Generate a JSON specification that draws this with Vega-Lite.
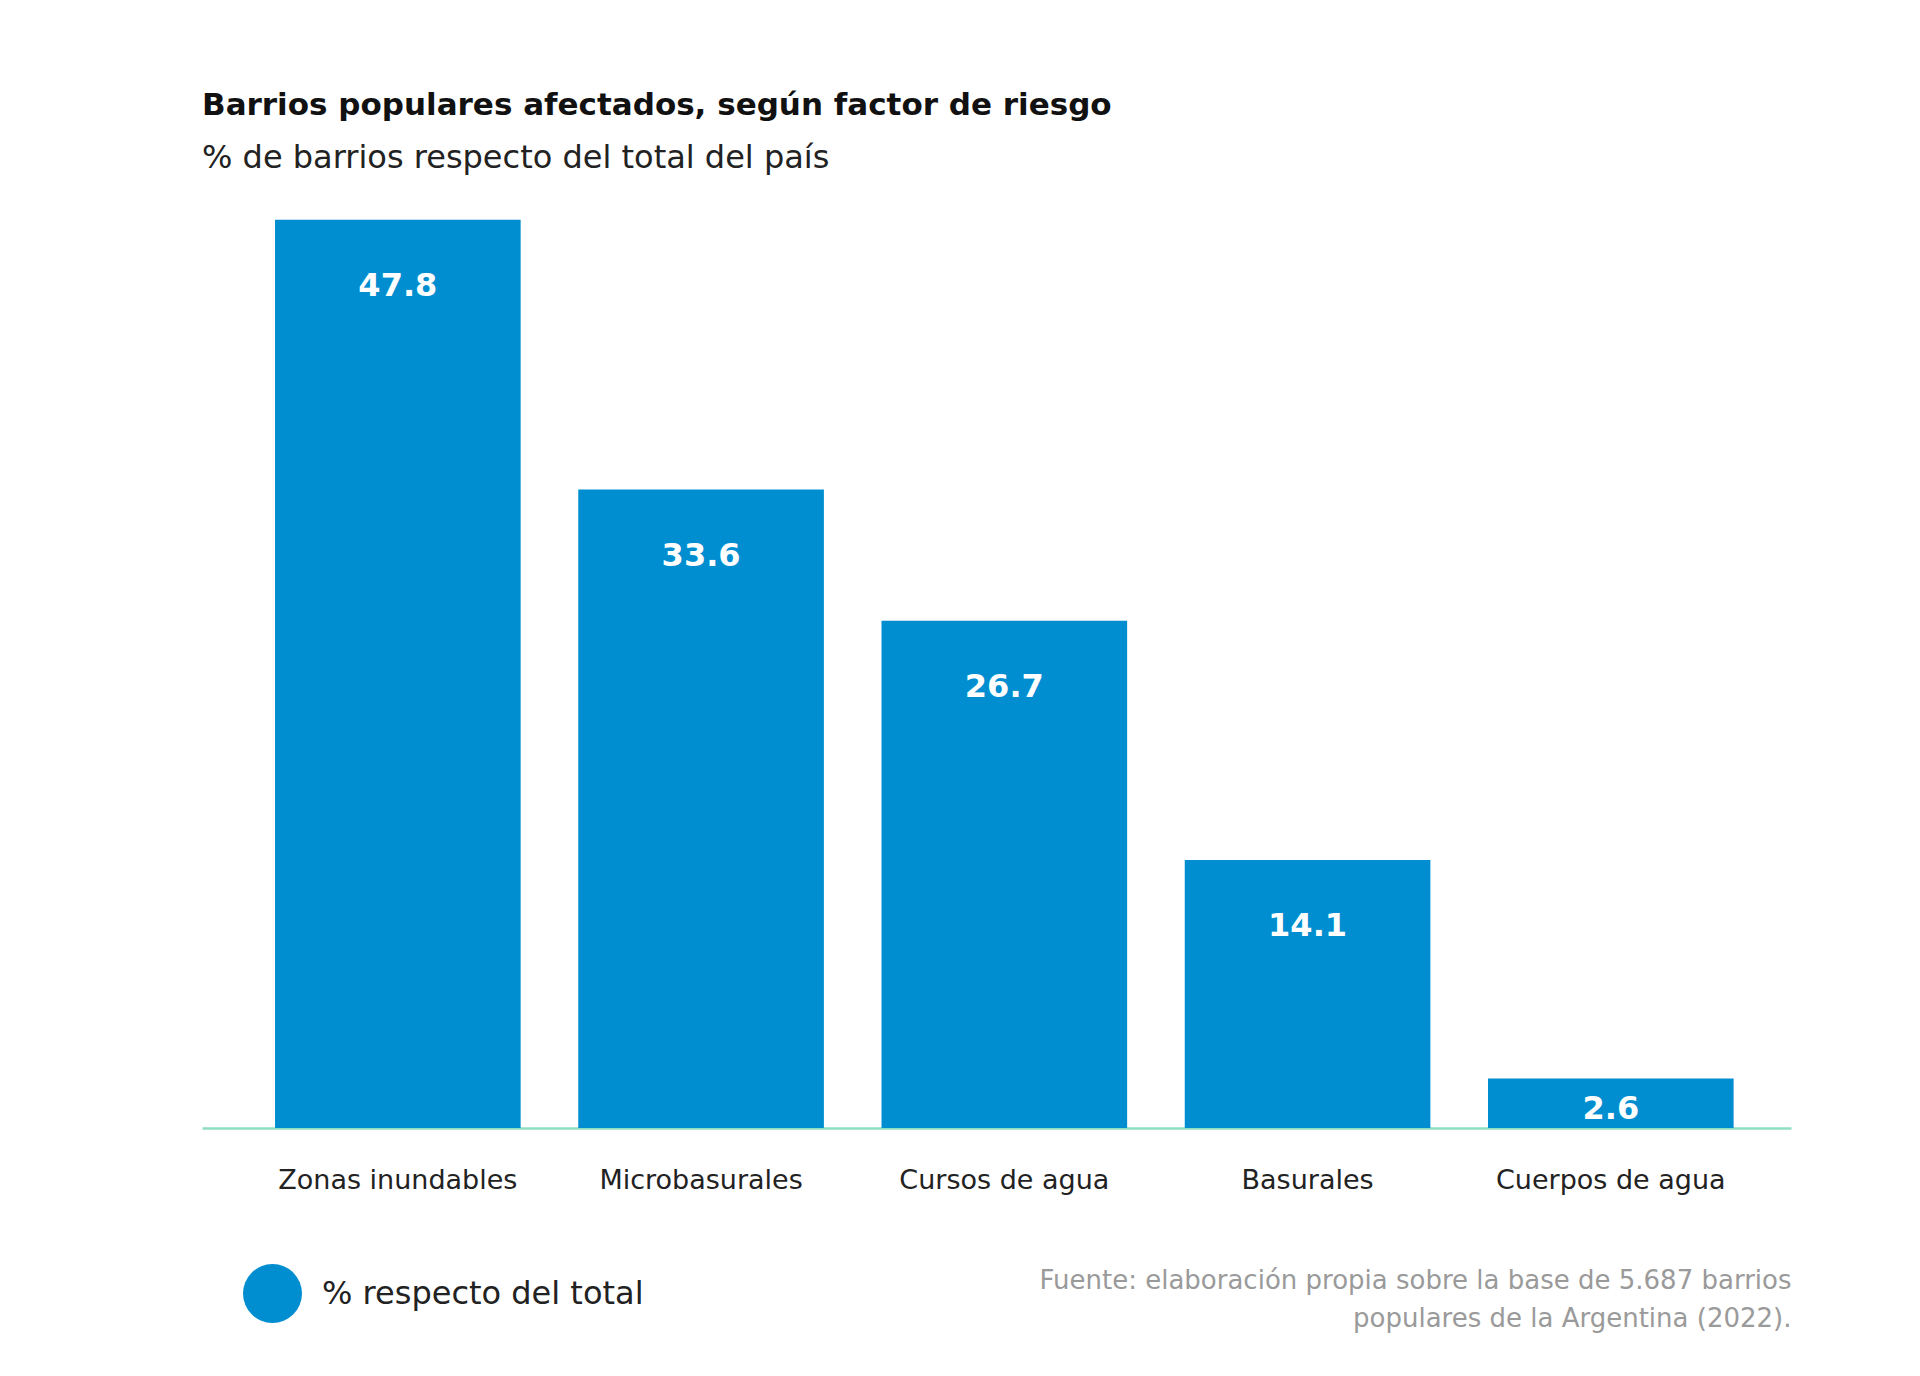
{
  "$schema": "https://vega.github.io/schema/vega-lite/v6.json",
  "autosize": "none",
  "padding": {"left": 202, "top": 178, "right": 129, "bottom": 248},
  "width": 1589,
  "height": 950,
  "background": "white",
  "config": {"view": {"stroke": null}, "font": "DejaVu Sans"},
  "title": {
    "text": "Barrios populares afectados, según factor de riesgo",
    "subtitle": "% de barrios respecto del total del país",
    "anchor": "start",
    "font": "DejaVu Sans",
    "fontSize": 31,
    "fontWeight": "bold",
    "color": "#111111",
    "subtitleFont": "DejaVu Sans",
    "subtitleFontSize": 32,
    "subtitleColor": "#222222",
    "subtitlePadding": 21,
    "offset": 3
  },
  "data": {
    "values": [
      {"factor": "Zonas inundables", "valor": 47.8},
      {"factor": "Microbasurales", "valor": 33.6},
      {"factor": "Cursos de agua", "valor": 26.7},
      {"factor": "Basurales", "valor": 14.1},
      {"factor": "Cuerpos de agua", "valor": 2.6}
    ]
  },
  "encoding": {
    "x": {
      "field": "factor",
      "type": "nominal",
      "sort": null,
      "scale": {"paddingInner": 0.19, "paddingOuter": 0.215, "align": 0.56},
      "axis": {
        "title": ["Fuente: elaboración propia sobre la base de 5.687 barrios", "populares de la Argentina (2022)."],
        "titleAnchor": "end",
        "titleAlign": "right",
        "titleBaseline": "top",
        "titleFont": "DejaVu Sans",
        "titleFontSize": 26,
        "titleFontWeight": "normal",
        "titleColor": "#9a9a9a",
        "titleLineHeight": 38,
        "titlePadding": 74,
        "labelAngle": 0,
        "labelFont": "DejaVu Sans",
        "labelFontSize": 27,
        "labelColor": "#222222",
        "labelPadding": 39,
        "labelLimit": 0,
        "ticks": false,
        "domainColor": "#8fdfc0",
        "domainWidth": 2.5
      }
    },
    "y": {
      "field": "valor",
      "type": "quantitative",
      "scale": {"domain": [0, 50], "nice": false},
      "axis": null
    }
  },
  "layer": [
    {
      "mark": {"type": "bar"},
      "encoding": {
        "color": {
          "datum": "% respecto del total",
          "type": "nominal",
          "scale": {"range": ["#008ed0"]},
          "legend": {
            "title": null,
            "orient": "none",
            "legendX": 41,
            "legendY": 1086,
            "symbolType": "circle",
            "symbolSize": 3481,
            "symbolStrokeWidth": 0,
            "labelFont": "DejaVu Sans",
            "labelFontSize": 32,
            "labelColor": "#222222",
            "labelOffset": 20,
            "labelLimit": 0
          }
        }
      }
    },
    {
      "transform": [{"filter": "datum.valor >= 5"}],
      "mark": {"type": "text", "baseline": "middle", "dy": 66, "fontSize": 32, "fontWeight": "bold", "color": "white", "font": "DejaVu Sans"},
      "encoding": {"text": {"field": "valor", "type": "quantitative", "format": ".1f"}}
    },
    {
      "transform": [{"filter": "datum.valor < 5"}],
      "mark": {"type": "text", "baseline": "middle", "dy": -19, "fontSize": 32, "fontWeight": "bold", "color": "white", "font": "DejaVu Sans"},
      "encoding": {
        "y": {"datum": 0},
        "text": {"field": "valor", "type": "quantitative", "format": ".1f"}
      }
    }
  ]
}
